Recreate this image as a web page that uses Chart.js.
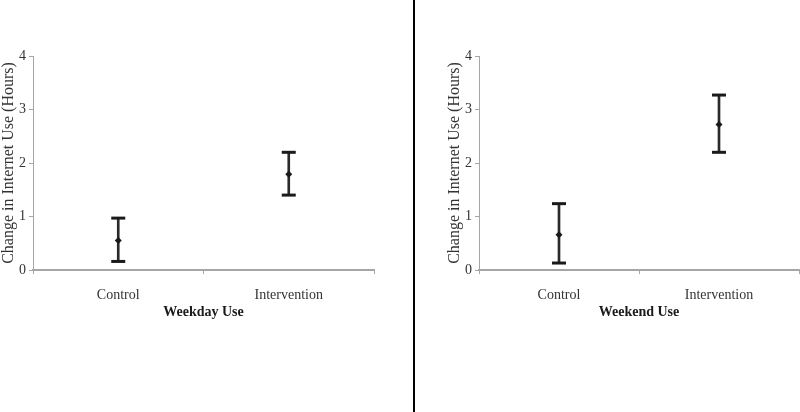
<!DOCTYPE html>
<html>
<head>
<meta charset="utf-8">
<script src="https://cdn.jsdelivr.net/npm/chart.js@4.4.1/dist/chart.umd.min.js"></script>
<style>
  html, body { margin: 0; padding: 0; background: #fff; }
  #wrap { position: relative; width: 800px; height: 412px; overflow: hidden; }
  #left { position: absolute; left: 0; top: 0; }
  #right { position: absolute; left: 446px; top: 0; }
  #sep { position: absolute; left: 413px; top: 0; width: 2px; height: 412px; background: #000; }
</style>
</head>
<body>
<div id="wrap">
  <canvas id="left" width="413" height="412"></canvas>
  <div id="sep"></div>
  <canvas id="right" width="354" height="412"></canvas>
</div>
<script>
// categorias y valores
const categories = ['Control', 'Intervention'];
const yTicks = [0, 1, 2, 3, 4];

const weekdayMean = [0.55, 1.79];
const weekdayLow = [0.16, 1.40];
const weekdayHigh = [0.97, 2.20];

const weekendMean = [0.66, 2.72];
const weekendLow = [0.13, 2.20];
const weekendHigh = [1.24, 3.27];

const serif = 'Liberation Serif';
const axisGray = '#a6a6a6';
const ink = '#1a1a1a';

function makePanel(id, mean, low, high, title, padRight) {
  let ctx = document.getElementById(id).getContext('2d');
  return new Chart(ctx, {
    type: 'bar',
    data: {
      labels: categories,
      datasets: [
        { // media
          type: 'line', data: mean, showLine: false,
          pointStyle: 'rectRot', pointRadius: 3.5,
          pointBackgroundColor: ink, pointBorderColor: ink, pointBorderWidth: 0
        },
        { // tope superior
          type: 'line', data: high, showLine: false,
          pointStyle: 'line', pointRadius: 7,
          pointBorderColor: ink, pointBorderWidth: 3
        },
        { // tope inferior
          type: 'line', data: low, showLine: false,
          pointStyle: 'line', pointRadius: 7,
          pointBorderColor: ink, pointBorderWidth: 3
        },
        { // barra de error
          data: low.map((v, i) => [v, high[i]]),
          backgroundColor: '#2a2a2a', borderWidth: 0, barThickness: 2
        }
      ]
    },
    options: {
      responsive: false,
      animation: false,
      events: [],
      layout: { autoPadding: false, padding: { left: 0, right: padRight, top: 56, bottom: 82 } },
      plugins: { legend: { display: false }, tooltip: { enabled: false } },
      scales: {
        x: {
          afterFit: s => { s.height = 60; },
          grid: { drawOnChartArea: false, drawTicks: true, tickLength: 4, color: axisGray, lineWidth: 1 },
          border: { color: axisGray, width: 2 },
          ticks: { color: '#333', padding: 13, font: { family: serif, size: 14 } },
          title: {
            display: true, text: title, color: ink,
            font: { family: serif, size: 14, weight: 'bold', lineHeight: 1.2 },
            padding: { top: 0, bottom: 9 }
          }
        },
        y: {
          min: yTicks[0], max: yTicks[yTicks.length - 1],
          afterFit: s => { s.width = 33; },
          afterBuildTicks: s => { s.ticks = yTicks.map(v => ({ value: v })); },
          grid: { drawOnChartArea: false, drawTicks: true, tickLength: 4, color: axisGray },
          border: { color: axisGray, width: 1 },
          ticks: { color: '#333', padding: 3, font: { family: serif, size: 14 } },
          title: {
            display: true, text: 'Change in Internet Use (Hours)', color: '#333',
            font: { family: serif, size: 16, lineHeight: 1.1 },
            padding: 0
          }
        }
      }
    }
  });
}

makePanel('left', weekdayMean, weekdayLow, weekdayHigh, 'Weekday Use', 39);
makePanel('right', weekendMean, weekendLow, weekendHigh, 'Weekend Use', 1);
</script>
</body>
</html>
